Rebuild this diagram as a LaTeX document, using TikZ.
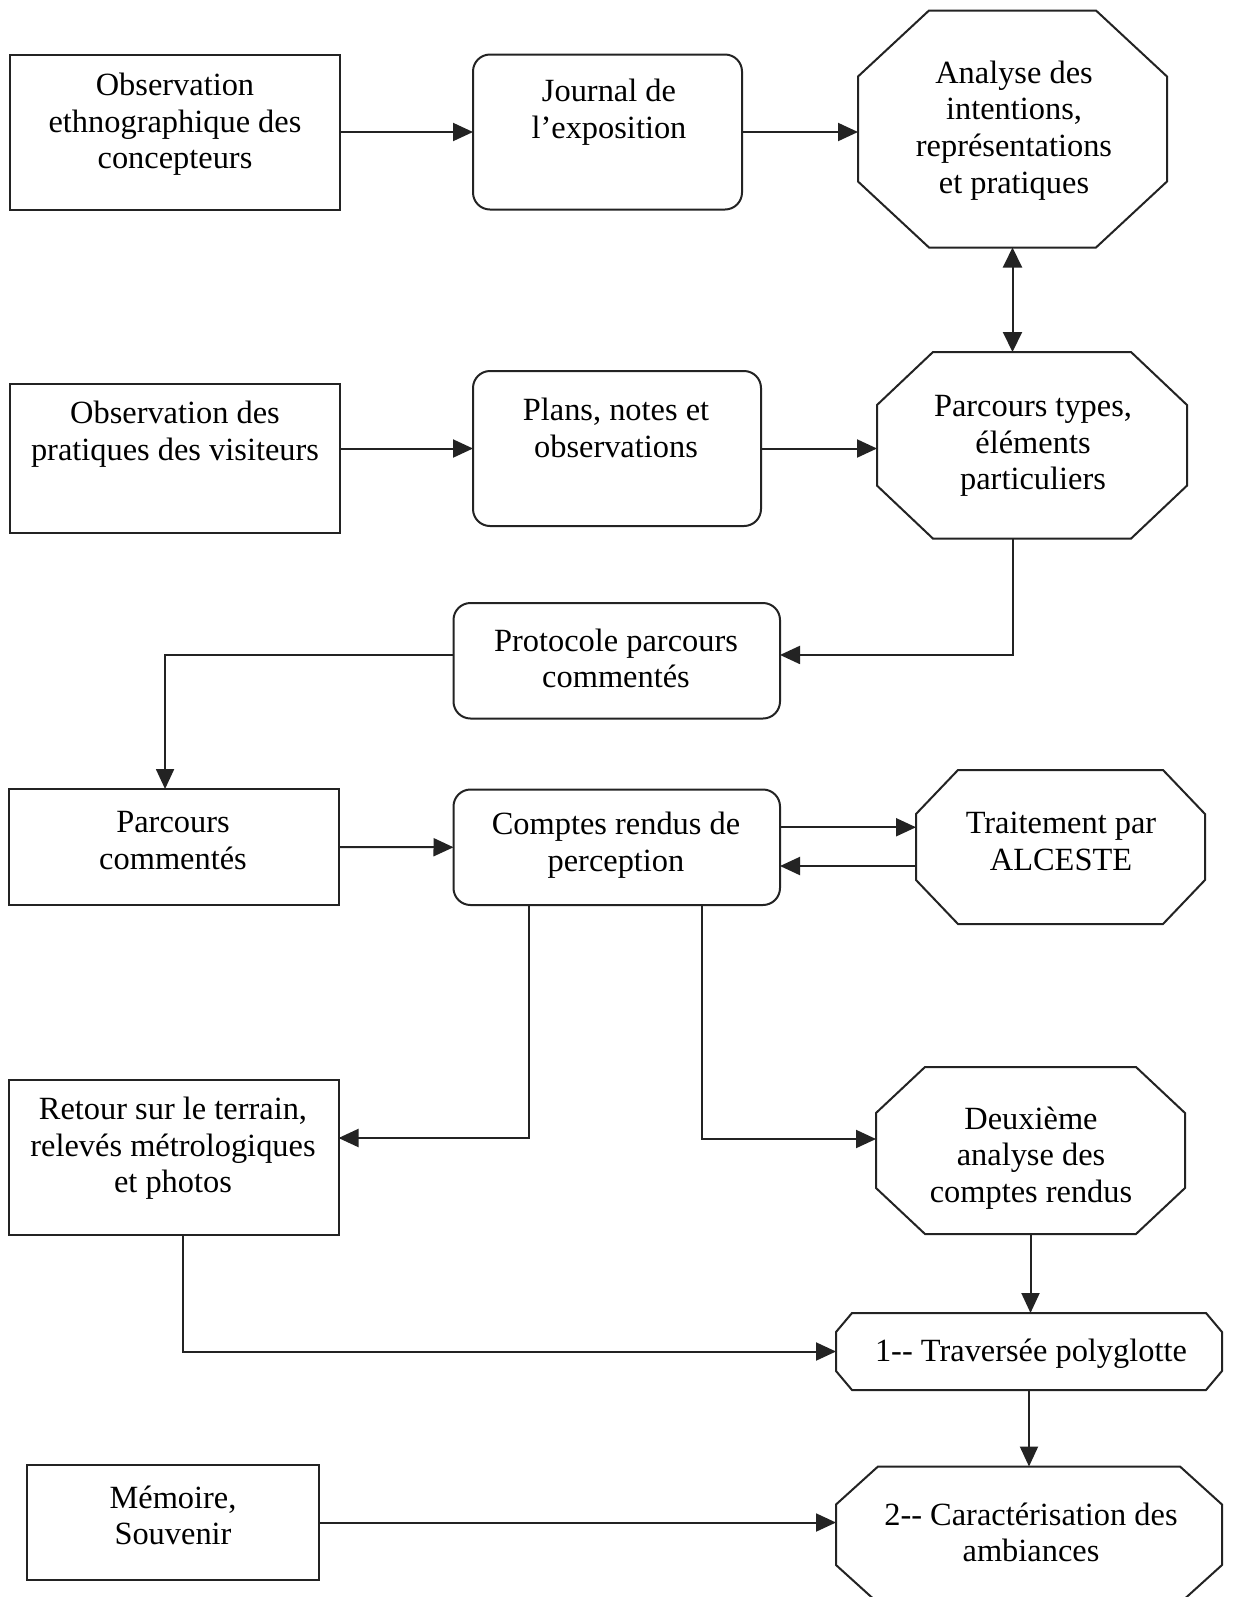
\documentclass[tikz,border=0pt]{standalone}
\usepackage{fontspec}
\setmainfont{Liberation Serif}
\usetikzlibrary{arrows.meta}
\definecolor{lc}{RGB}{35,35,35}
\newcommand\myoct[3]{%
  \draw[draw=lc, line width=1pt]
    ([xshift=#2]#1.north west) -- ([xshift=-#2]#1.north east) --
    ([yshift=-#3]#1.north east) -- ([yshift=#3]#1.south east) --
    ([xshift=-#2]#1.south east) -- ([xshift=#2]#1.south west) --
    ([yshift=#3]#1.south west) -- ([yshift=-#3]#1.north west) -- cycle;}
\begin{document}
\begin{tikzpicture}[x=0.5pt,y=-0.5pt,
  shp/.style={rectangle, draw=lc, line width=1pt, inner sep=0pt, outer sep=0pt},
  sq/.style={shp},
  rnd/.style={shp, rounded corners=8.5pt},
  oct/.style={rectangle, draw=none, inner sep=0pt, outer sep=0pt},
  txt/.style={align=center, inner sep=0pt, yshift=-1.2pt, text=black, font=\fontsize{16.2pt}{18.3pt}\selectfont},
  arr/.style={draw=lc, line width=1pt, -{Triangle[length=10pt,width=9pt]}},
  darr/.style={draw=lc, line width=1pt, {Triangle[length=10pt,width=9.5pt]}-{Triangle[length=10pt,width=9.5pt]}},
]
\useasboundingbox (0,0) rectangle (1233,1597);
\clip (0,0) rectangle (1233,1597);
\fill[white] (0,0) rectangle (1233,1597);

% shapes
\node[sq, minimum width=165pt, minimum height=77.5pt] (b1) at (175,132) {};
\node[rnd, minimum width=134.5pt, minimum height=77.5pt] (jr) at (607.5,132) {};
\node[oct, minimum width=154.5pt, minimum height=118.5pt] (an) at (1012.5,129) {};
\myoct{an}{35.5pt}{33pt}

\node[sq, minimum width=165pt, minimum height=74.5pt] (b2) at (175,458.5) {};
\node[rnd, minimum width=144pt, minimum height=77.5pt] (pl) at (617,448.5) {};
\node[oct, minimum width=155pt, minimum height=93.3pt] (pt) at (1032,445.3) {};
\myoct{pt}{28pt}{26.5pt}

\node[rnd, minimum width=163.25pt, minimum height=57.75pt] (pr) at (616.75,660.75) {};

\node[sq, minimum width=165.15pt, minimum height=58pt] (pc) at (173.85,847) {};
\node[rnd, minimum width=163.25pt, minimum height=57.75pt] (cr) at (616.75,847.25) {};
\node[oct, minimum width=144.5pt, minimum height=77pt] (tr) at (1060.5,847) {};
\myoct{tr}{21pt}{22pt}

\node[sq, minimum width=164.9pt, minimum height=77.5pt] (rt) at (173.6,1157.5) {};
\node[oct, minimum width=154.5pt, minimum height=83.5pt] (dx) at (1030.5,1150.5) {};
\myoct{dx}{24.5pt}{23pt}

\node[oct, minimum width=193pt, minimum height=38.5pt] (tv) at (1029,1351.5) {};
\myoct{tv}{8pt}{9.5pt}

\node[sq, minimum width=146pt, minimum height=57.5pt] (mm) at (173,1522.5) {};
\node[oct, minimum width=193pt, minimum height=68.25pt] (ca) at (1029,1534.75) {};
\myoct{ca}{21pt}{19pt}

% texts
\node[txt] (tb1) at (175,122) {Observation\\ethnographique des\\concepteurs};
\node[txt] (tjr) at (609,110) {Journal de\\l’exposition};
\node[txt] (tan) at (1014,128) {Analyse des\\intentions,\\représentations\\et pratiques};
\node[txt] (tb2) at (175,432) {Observation des\\pratiques des visiteurs};
\node[txt] (tpl) at (616,425.5) {Plans, notes et\\observations};
\node[txt] (tpt) at (1033,443.5) {Parcours types,\\éléments\\particuliers};
\node[txt] (tpr) at (616,656) {Protocole parcours\\commentés};
\node[txt] (tpc) at (173,838) {Parcours\\commentés};
\node[txt] (tcr) at (616,843) {Comptes rendus de\\perception};
\node[txt] (ttr) at (1061,839) {Traitement par\\ALCESTE};
\node[txt] (trt) at (173,1146) {Retour sur le terrain,\\relevés métrologiques\\et photos};
\node[txt] (tdx) at (1031,1155.5) {Deuxième\\analyse des\\comptes rendus};
\node[txt] (ttv) at (1031,1351) {1-\kern0pt- Traversée polyglotte};
\node[txt] (tmm) at (173,1513) {Mémoire,\\Souvenir};
\node[txt] (tca) at (1031,1530) {2-\kern0pt- Caractérisation des\\ambiances};

% connectors
\draw[arr] (b1.east) -- (jr.west);
\draw[arr] (jr.east) -- (jr.east -| an.west);
\draw[darr] (an.south) -- (an.south |- pt.north);
\draw[arr] (b2.east |- pl.west) -- (pl.west);
\draw[arr] (pl.east) -- (pl.east -| pt.west);
\draw[arr] (an.south |- pt.south) |- ([yshift=2.9pt]pr.east);
\draw[arr] ([yshift=2.9pt]pr.west) -| ([xshift=-4.4pt]pc.north);
\draw[arr] (pc.east) -- (cr.west);
\draw[arr] ([yshift=10pt]cr.east) -- ([yshift=10pt]cr.east -| tr.west);
\draw[arr] ([yshift=-9.5pt]tr.west) -- ([yshift=-9.5pt]tr.west -| cr.east);
\draw[arr] ([xshift=-43.9pt]cr.south) |- ([yshift=9.75pt]rt.east);
\draw[arr] ([xshift=42.6pt]cr.south) |- ([yshift=5.75pt]dx.west);
\draw[arr] (dx.south) -- (dx.south |- tv.north);
\draw[arr] ([xshift=4.7pt]rt.south) |- (tv.west);
\draw[arr] (tv.south) -- (tv.south |- ca.north);
\draw[arr] (mm.east) -- (mm.east -| ca.west);
\end{tikzpicture}
\end{document}
